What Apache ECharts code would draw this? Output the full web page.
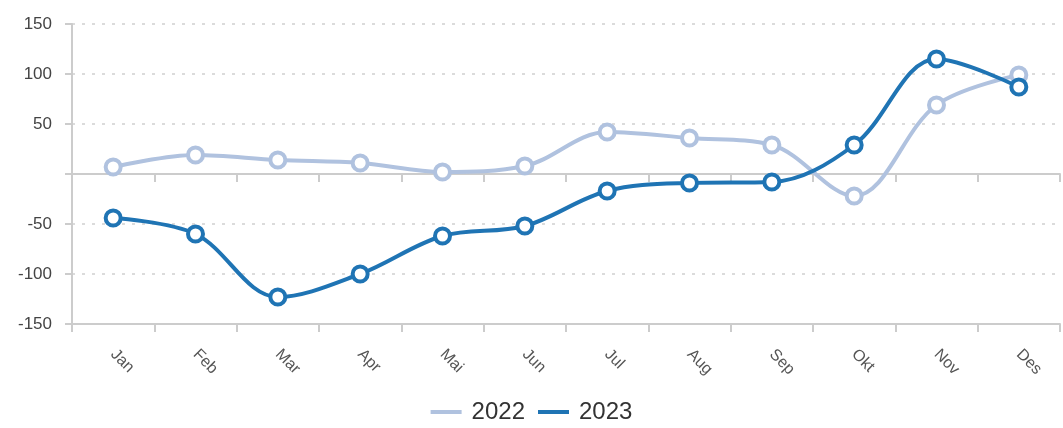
<!DOCTYPE html>
<html>
<head>
<meta charset="utf-8">
<script src="https://cdn.jsdelivr.net/npm/echarts@6/dist/echarts.min.js"></script>
<style>
  html, body { margin: 0; padding: 0; background: #fff; }
  #chart { width: 1063px; height: 428px; }
</style>
</head>
<body>
<div id="chart"></div>
<script>
// data
var months = ['Jan', 'Feb', 'Mar', 'Apr', 'Mai', 'Jun', 'Jul', 'Aug', 'Sep', 'Okt', 'Nov', 'Des'];
var values2022 = [7, 19, 14, 11, 2, 8, 42, 36, 29, -22, 69, 99];
var values2023 = [-44, -60, -123, -100, -62, -52, -17, -9, -8, 29, 115, 87];

var lightColor = '#b0c2df';
var darkColor = '#1f74b4';
var axisGray = '#cccccc';
var font = 'Liberation Sans, Arial, sans-serif';

var myChart = echarts.init(document.getElementById('chart'));

var option = {
    animation: false,
    grid: {
        left: 72,
        right: 3,
        top: 24,
        bottom: 104
    },
    legend: {
        bottom: -1,
        left: 'center',
        itemWidth: 31,
        itemHeight: 4,
        itemGap: 13,
        icon: 'rect',
        textStyle: { fontSize: 24, color: '#333', fontFamily: font, padding: [0, 0, 0, 5] },
        data: [
            { name: '2022', itemStyle: { color: lightColor, borderWidth: 0 } },
            { name: '2023', itemStyle: { color: darkColor, borderWidth: 0 } }
        ]
    },
    xAxis: [
        {
            // line through zero, no labels
            type: 'category',
            data: months,
            position: 'bottom',
            axisLine: { onZero: true, lineStyle: { color: axisGray, width: 2 } },
            axisTick: { show: true, length: 8, lineStyle: { color: axisGray, width: 2 } },
            axisLabel: { show: false }
        },
        {
            // bottom line carrying the month labels
            type: 'category',
            data: months,
            position: 'bottom',
            axisLine: { onZero: false, lineStyle: { color: axisGray, width: 2 } },
            axisTick: { show: true, length: 8, lineStyle: { color: axisGray, width: 2 } },
            axisLabel: {
                rotate: -45,
                margin: 28,
                fontSize: 16,
                color: '#555',
                fontFamily: font
            }
        }
    ],
    yAxis: {
        type: 'value',
        min: -150,
        max: 150,
        interval: 50,
        axisLine: { show: true, lineStyle: { color: axisGray, width: 2 } },
        axisTick: { show: true, length: 7, lineStyle: { color: axisGray, width: 2 } },
        axisLabel: {
            fontSize: 17,
            color: '#444',
            margin: 20,
            fontFamily: font,
            formatter: function (v) { return v === 0 ? '' : v; }
        },
        splitLine: {
            show: true,
            lineStyle: { color: '#cfcfcf', type: [3, 7], width: 1.5 }
        }
    },
    series: [
        {
            name: '2022',
            type: 'line',
            xAxisIndex: 0,
            data: values2022,
            smooth: 0.35,
            symbol: 'circle',
            symbolSize: 15,
            lineStyle: { color: lightColor, width: 4 },
            itemStyle: { color: '#fff', borderColor: lightColor, borderWidth: 4 },
            color: lightColor
        },
        {
            name: '2023',
            type: 'line',
            xAxisIndex: 0,
            data: values2023,
            smooth: 0.35,
            symbol: 'circle',
            symbolSize: 15,
            lineStyle: { color: darkColor, width: 4 },
            itemStyle: { color: '#fff', borderColor: darkColor, borderWidth: 4 },
            color: darkColor
        }
    ]
};

myChart.setOption(option);
</script>
</body>
</html>
